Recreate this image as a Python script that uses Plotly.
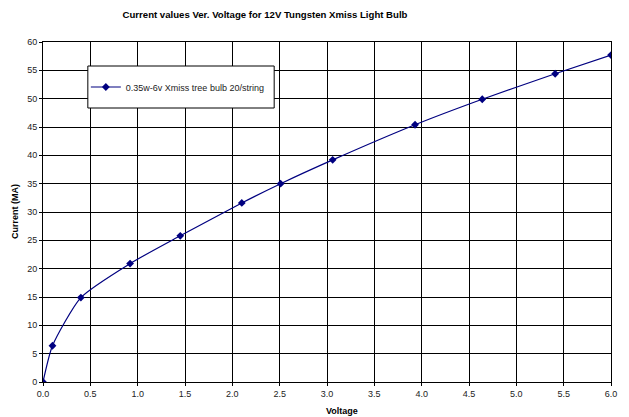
import plotly.graph_objects as go

voltage = [0.0, 0.10, 0.40, 0.92, 1.45, 2.10, 2.51, 3.06, 3.93, 4.64, 5.41, 6.0]
current = [0.0, 6.4, 14.9, 20.9, 25.8, 31.6, 35.0, 39.2, 45.4, 49.9, 54.4, 57.7]
series_name = "0.35w-6v Xmiss tree bulb 20/string"
x_ticks = [0.0, 0.5, 1.0, 1.5, 2.0, 2.5, 3.0, 3.5, 4.0, 4.5, 5.0, 5.5, 6.0]
y_ticks = [0, 5, 10, 15, 20, 25, 30, 35, 40, 45, 50, 55, 60]

W, H = 629, 417
L, R, T, B = 43, 16, 42, 35
PW, PH = W - L - R, H - T - B

def px_x(p):
    return (p - L) / PW

def px_y(p):
    return 1 - (p - T) / PH

fig = go.Figure()
fig.add_trace(go.Scatter(
    x=voltage, y=current, mode="lines+markers", name=series_name,
    line=dict(color="#000080", width=1.2, shape="spline", smoothing=0.6),
    marker=dict(symbol="diamond", size=6, color="#000080"),
))

font = "Liberation Sans, Arial, sans-serif"
fig.update_layout(
    width=W, height=H,
    margin=dict(l=L, r=R, t=T, b=B),
    paper_bgcolor="white", plot_bgcolor="white",
    font=dict(family=font, size=9, color="#222222"),
    title=dict(
        text="<b>Current values Ver. Voltage for 12V Tungsten Xmiss Light Bulb</b>",
        x=265 / W, xref="container", xanchor="center",
        y=1 - 15 / H, yref="container", yanchor="middle",
        font=dict(family=font, size=9.6, color="black"),
    ),
    showlegend=True,
    legend=dict(
        x=px_x(86), y=px_y(87),
        xanchor="left", yanchor="middle",
        bgcolor="rgba(0,0,0,0)", borderwidth=0,
        font=dict(family=font, size=9, color="#222222"),
        itemwidth=30,
    ),
    shapes=[dict(type="rect", xref="paper", yref="paper",
                 x0=px_x(88), x1=px_x(275), y0=px_y(108), y1=px_y(66),
                 line=dict(color="black", width=1), fillcolor="white",
                 layer="above")],
    xaxis=dict(
        range=[0, 6], tickvals=x_ticks, ticktext=[f"{v:.1f}" for v in x_ticks],
        showgrid=True, gridcolor="black", gridwidth=1,
        showline=True, linecolor="black", linewidth=1, mirror=True,
        ticks="outside", ticklen=3, tickcolor="black", zeroline=False,
        tickfont=dict(size=9),
    ),
    yaxis=dict(
        range=[0, 60], tickvals=y_ticks,
        showgrid=True, gridcolor="black", gridwidth=1,
        showline=True, linecolor="black", linewidth=1, mirror=True,
        ticks="outside", ticklen=3, tickcolor="black", zeroline=False,
        tickfont=dict(size=9),
    ),
    annotations=[
        dict(text="<b>Voltage</b>", x=px_x(343), y=0,
             xref="paper", yref="paper", yshift=-(411 - (H - B)),
             xanchor="center", yanchor="middle", showarrow=False,
             font=dict(family=font, size=9, color="black")),
        dict(text="<b>Current (MA)</b>", x=0, y=0.5, textangle=-90,
             xref="paper", yref="paper", xshift=-(L - 15),
             xanchor="center", yanchor="middle", showarrow=False,
             font=dict(family=font, size=9, color="black")),
    ],
)

fig.write_html("out.html", config={"displayModeBar": False},
               post_script="document.body.style.margin='0';")
